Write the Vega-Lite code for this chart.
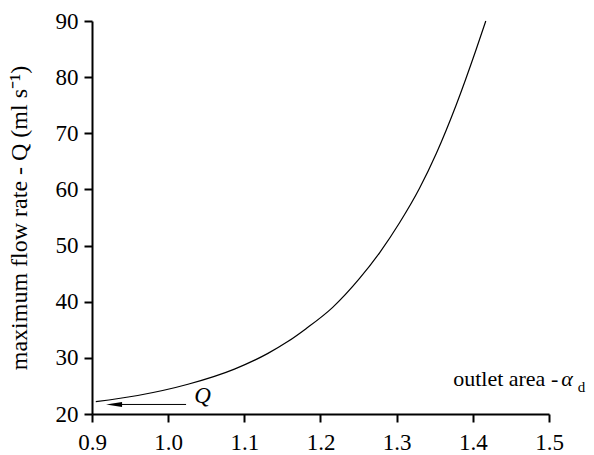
{
  "$schema": "https://vega.github.io/schema/vega-lite/v6.json",
  "width": 457,
  "height": 393,
  "autosize": {"type": "none"},
  "padding": {"left": 92, "top": 21, "right": 45, "bottom": 41},
  "background": "white",
  "config": {
    "view": {"stroke": null},
    "font": "Liberation Serif",
    "axis": {
      "grid": false,
      "domainColor": "black",
      "domainWidth": 2,
      "tickColor": "black",
      "tickWidth": 2,
      "tickSize": 8,
      "labelFlush": false,
      "labelFont": "Liberation Serif",
      "labelColor": "black",
      "titleFont": "Liberation Serif",
      "titleFontWeight": "normal",
      "titleColor": "black"
    }
  },
  "datasets": {
    "curve": [
      {"a": 0.905, "q": 22.2},
      {"a": 0.96, "q": 23.3},
      {"a": 1.026, "q": 25.3},
      {"a": 1.087, "q": 28.0},
      {"a": 1.131, "q": 30.8},
      {"a": 1.157, "q": 32.9},
      {"a": 1.181, "q": 35.2},
      {"a": 1.216, "q": 39.0},
      {"a": 1.251, "q": 44.1},
      {"a": 1.278, "q": 48.8},
      {"a": 1.304, "q": 54.1},
      {"a": 1.33, "q": 60.2},
      {"a": 1.352, "q": 66.4},
      {"a": 1.378, "q": 75.0},
      {"a": 1.404, "q": 84.8},
      {"a": 1.417, "q": 90.0}
    ],
    "arrow": [
      {"a": 0.925, "q": 21.7},
      {"a": 1.0235, "q": 21.7}
    ],
    "head": [{"a": 0.929, "q": 21.7}],
    "qlabel": [{"a": 1.0344, "q": 22.0, "t": "Q"}],
    "xlabel": [{"a": 1.5121, "q": 24.9, "t": "outlet area -"}],
    "alpha": [{"a": 1.516, "q": 24.9, "t": "α"}],
    "sub": [{"a": 1.5377, "q": 23.97, "t": "d"}]
  },
  "encoding": {
    "x": {
      "field": "a",
      "type": "quantitative",
      "scale": {"domain": [0.9, 1.5], "nice": false, "zero": false},
      "axis": {
        "values": [0.9, 1.0, 1.1, 1.2, 1.3, 1.4, 1.5],
        "format": ".1f",
        "title": null,
        "labelFontSize": 23,
        "labelPadding": 9
      }
    },
    "y": {
      "field": "q",
      "type": "quantitative",
      "scale": {"domain": [20, 90], "nice": false, "zero": false},
      "axis": {
        "values": [20, 30, 40, 50, 60, 70, 80, 90],
        "title": "maximum flow rate - Q (ml s⁻¹)",
        "titleFontSize": 24,
        "titleX": -61,
        "titleY": 196.5,
        "labelFontSize": 23,
        "labelPadding": 6
      }
    }
  },
  "layer": [
    {
      "data": {"name": "curve"},
      "mark": {"type": "line", "color": "black", "strokeWidth": 1.2, "interpolate": "monotone"}
    },
    {
      "data": {"name": "arrow"},
      "mark": {"type": "line", "color": "black", "strokeWidth": 1}
    },
    {
      "data": {"name": "head"},
      "mark": {"type": "point", "shape": "M-1,0L1,-0.32L1,0.32Z", "filled": true, "color": "black", "size": 256, "opacity": 1}
    },
    {
      "data": {"name": "qlabel"},
      "mark": {"type": "text", "align": "left", "baseline": "alphabetic", "fontSize": 23, "fontStyle": "italic", "color": "black"},
      "encoding": {"text": {"field": "t"}}
    },
    {
      "data": {"name": "xlabel"},
      "mark": {"type": "text", "align": "right", "baseline": "alphabetic", "fontSize": 22, "color": "black"},
      "encoding": {"text": {"field": "t"}}
    },
    {
      "data": {"name": "alpha"},
      "mark": {"type": "text", "align": "left", "baseline": "alphabetic", "fontSize": 22, "fontStyle": "italic", "color": "black"},
      "encoding": {"text": {"field": "t"}}
    },
    {
      "data": {"name": "sub"},
      "mark": {"type": "text", "align": "left", "baseline": "alphabetic", "fontSize": 15, "color": "black"},
      "encoding": {"text": {"field": "t"}}
    }
  ]
}
